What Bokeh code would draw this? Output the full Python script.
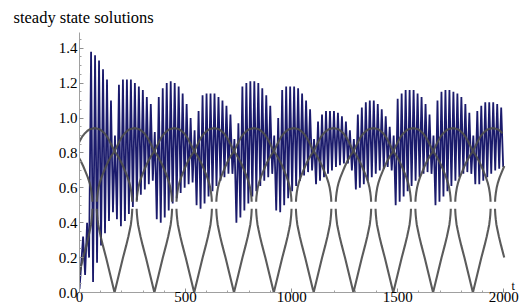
import numpy as np
from bokeh.plotting import figure
from bokeh.models import Range1d, Label, FixedTicker, PrintfTickFormatter
from bokeh.embed import file_html
from bokeh.resources import INLINE

# ---------------- data ----------------
title_text = "steady state solutions"
x_label_text = "t"
x_major = [0, 500, 1000, 1500, 2000]
x_minor = [100, 200, 300, 400, 600, 700, 800, 900, 1100, 1200, 1300, 1400,
           1600, 1700, 1800, 1900]
y_major = [0.0, 0.2, 0.4, 0.6, 0.8, 1.0, 1.2, 1.4]
y_minor = [0.05, 0.1, 0.15, 0.25, 0.3, 0.35, 0.45, 0.5, 0.55, 0.65, 0.7, 0.75,
           0.85, 0.9, 0.95, 1.05, 1.1, 1.15, 1.25, 1.3, 1.35, 1.45]
x_axis_end = 2011
y_axis_end = 1.49

# blue solution: starting value, then alternating peaks / troughs
blue_start_t = 0.0
blue_start_y = 0.02
blue_first_peak_t = 17.0
blue_period = 18.77
blue_peaks = [
    0.32, 0.40, 1.38, 1.36, 1.33, 1.28, 1.22, 1.10,
    0.90, 1.19, 1.22, 1.22, 1.22, 1.20, 1.18, 1.16, 1.12, 1.08,
    0.92, 1.12, 1.17, 1.20, 1.21, 1.20, 1.18, 1.14, 1.08, 1.00,
    0.93, 1.04, 1.13, 1.14, 1.14, 1.14, 1.12, 1.10, 1.07, 1.02,
    0.88, 0.97, 1.18, 1.20, 1.21, 1.21, 1.20, 1.17, 1.13, 1.07,
    0.90, 1.00, 1.16, 1.18, 1.18, 1.18, 1.17, 1.14, 1.10, 1.05,
    0.88, 0.98, 1.02, 1.04, 1.04, 1.04, 1.03, 1.01, 0.98, 0.93,
    0.88, 1.02, 1.06, 1.09, 1.10, 1.10, 1.08, 1.05, 1.01, 0.95,
    0.90, 1.11, 1.14, 1.16, 1.16, 1.16, 1.14, 1.12, 1.08, 1.02,
    0.90, 1.10, 1.15, 1.16, 1.16, 1.15, 1.14, 1.12, 1.08, 1.03,
    0.90, 1.04, 1.07, 1.09, 1.09, 1.09, 1.08, 1.06,
]
blue_troughs = [
    0.10, 0.20, 0.06, 0.17, 0.27, 0.34, 0.41, 0.46,
    0.42, 0.38, 0.41, 0.45, 0.49, 0.53, 0.56, 0.59, 0.62, 0.64,
    0.42, 0.40, 0.43, 0.47, 0.51, 0.54, 0.57, 0.60, 0.62, 0.63,
    0.50, 0.48, 0.51, 0.55, 0.58, 0.61, 0.64, 0.66, 0.68, 0.68,
    0.40, 0.43, 0.47, 0.51, 0.55, 0.58, 0.61, 0.64, 0.66, 0.68,
    0.47, 0.46, 0.50, 0.54, 0.58, 0.61, 0.64, 0.67, 0.69, 0.70,
    0.62, 0.64, 0.66, 0.68, 0.70, 0.72, 0.73, 0.74, 0.74, 0.70,
    0.59, 0.60, 0.62, 0.64, 0.66, 0.68, 0.70, 0.71, 0.72, 0.70,
    0.50, 0.52, 0.55, 0.58, 0.61, 0.64, 0.66, 0.68, 0.69, 0.68,
    0.50, 0.52, 0.55, 0.58, 0.61, 0.64, 0.66, 0.68, 0.69, 0.68,
    0.62, 0.62, 0.64, 0.66, 0.68, 0.70, 0.71, 0.72,
]

# gray steady-state branches: one lens profile (offset from a cusp -> value),
# read from the picture; the branch is absent between the two fold offsets
lens_low_dt = [0, 20, 40, 55, 65, 72, 77, 80, 82, 83, 83.5]
lens_low_y = [0.0, 0.10, 0.20, 0.27, 0.32, 0.36, 0.39, 0.42, 0.445, 0.465, 0.48]
lens_up_dt = [104.5, 105, 106, 108, 112, 118, 126, 136, 148, 160, 174, 188,
              200, 212, 224, 236, 248, 260, 272, 281.5]
lens_up_y = [0.52, 0.535, 0.55, 0.57, 0.60, 0.63, 0.66, 0.69, 0.725, 0.755,
             0.785, 0.81, 0.84, 0.87, 0.895, 0.913, 0.927, 0.936, 0.94, 0.942]
cusps_a = [165.2, 728.3, 1291.4, 1854.5]
cusps_b = [-210.2, 352.9, 916.0, 1479.1, 2042.2]
cusps_c = [-22.5, 540.6, 1103.7, 1666.8, 2229.9]
t_end = 2000.0

# ---------------- build series ----------------
peak_t = blue_first_peak_t + blue_period * np.arange(len(blue_peaks))
trough_t = peak_t + blue_period / 2.0
blue_t = [blue_start_t]
blue_y = [blue_start_y]
for pt, pv, tt, tv in zip(peak_t, blue_peaks, trough_t, blue_troughs):
    blue_t += [pt, tt]
    blue_y += [pv, tv]


def branch(cusps):
    ts, ys = [], []
    nan = float("nan")
    for c in cusps:
        # left half: upper part then lower part down to the cusp
        for d, v in zip(reversed(lens_up_dt), reversed(lens_up_y)):
            ts.append(c - d); ys.append(v)
        ts.append(nan); ys.append(nan)
        for d, v in zip(reversed(lens_low_dt), reversed(lens_low_y)):
            ts.append(c - d); ys.append(v)
        # right half
        for d, v in zip(lens_low_dt[1:], lens_low_y[1:]):
            ts.append(c + d); ys.append(v)
        ts.append(nan); ys.append(nan)
        for d, v in zip(lens_up_dt, lens_up_y):
            ts.append(c + d); ys.append(v)
    out_t, out_y = [], []
    for t, v in zip(ts, ys):
        if np.isnan(t) or (-40 <= t <= t_end + 3):
            out_t.append(t); out_y.append(v)
    return out_t, out_y


# ---------------- figure ----------------
p = figure(width=526, height=308, output_backend="svg", toolbar_location=None,
           x_range=Range1d(0, 2060), y_range=Range1d(0, y_axis_end),
           min_border_left=79, min_border_right=10, min_border_top=30,
           min_border_bottom=16)
p.outline_line_color = None
p.grid.visible = False
p.background_fill_color = "white"
p.border_fill_color = "white"

p.line(blue_t, blue_y, line_color="#1b1b6c", line_width=1.8)
for cus in (cusps_a, cusps_b, cusps_c):
    gt, gy = branch(cus)
    p.line(gt, gy, line_color="#4d4d4d", line_width=2.1, line_alpha=0.92)

p.xaxis.ticker = FixedTicker(ticks=x_major, minor_ticks=x_minor)
p.yaxis.ticker = FixedTicker(ticks=y_major, minor_ticks=y_minor)
p.yaxis.formatter = PrintfTickFormatter(format="%.1f")
p.xaxis.bounds = (0, x_axis_end)
p.yaxis.bounds = (0, y_axis_end)
for ax in (p.xaxis, p.yaxis):
    ax.axis_line_color = "#a0a0a0"
    ax.axis_line_width = 1
    ax.major_tick_line_color = "#909090"
    ax.minor_tick_line_color = "#a0a0a0"
    ax.major_tick_in = 4
    ax.major_tick_out = 0
    ax.minor_tick_in = 2
    ax.minor_tick_out = 0
    ax.major_label_text_font = "Liberation Serif"
    ax.major_label_text_font_size = "15px"
    ax.major_label_text_color = "black"
p.xaxis.major_label_standoff = -1
p.yaxis.major_label_standoff = 2

p.title.text = title_text
p.title.align = "left"
p.title.offset = -66
p.title.vertical_align = "bottom"
p.title.standoff = 11
p.title.text_font = "Liberation Serif"
p.title.text_font_size = "16.5px"
p.title.text_font_style = "normal"
p.title.text_color = "black"

p.add_layout(Label(x=2044, y=0.0, text=x_label_text, text_font="Liberation Serif",
                   text_font_size="12px", text_color="black",
                   text_baseline="bottom", text_align="center"))

open("out.html", "w").write(file_html(p, INLINE))
